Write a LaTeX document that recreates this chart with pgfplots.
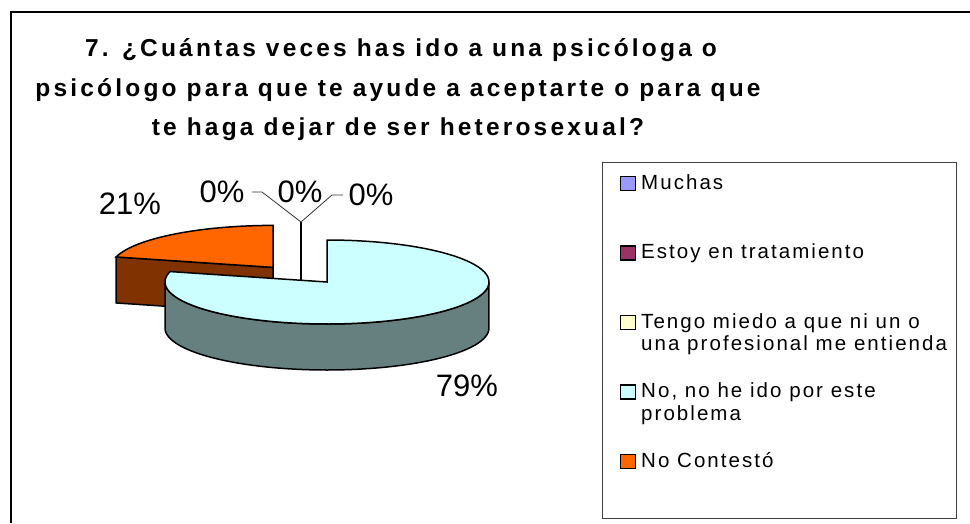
\documentclass[border=0pt]{standalone}
\usepackage{pgfplots}
\pgfplotsset{compat=1.18}
\usepackage{pgfplotstable}
\usepackage{fontspec}
\setmainfont{Liberation Sans}
\newfontfamily\titlefont[LetterSpace=13]{Liberation Sans}
\newfontfamily\legfont[LetterSpace=10]{Liberation Sans}

\definecolor{cMuchas}{HTML}{9999FF}
\definecolor{cEstoy}{HTML}{993366}
\definecolor{cTengo}{HTML}{FFFFCC}
\definecolor{cNo}{HTML}{CCFFFF}
\definecolor{cNoSide}{HTML}{668080}
\definecolor{cNC}{HTML}{FF6600}
\definecolor{cNCSide}{HTML}{803300}

\pgfplotstableread{
label value
Muchas 0
Estoy 0
Tengo 0
No 79
NC 21
}\piedata

\tikzset{swatch/.style={draw=black, line width=1.5bp, minimum width=15bp, minimum height=14bp, inner sep=0}}

\begin{document}%
\begin{tikzpicture}
\pgfplotstablegetelem{3}{value}\of\piedata \let\vNo\pgfplotsretval
\pgfplotstablegetelem{4}{value}\of\piedata \let\vNC\pgfplotsretval
% geometry (pixel units, y downward)
\def\cx{327}\def\cy{282}\def\rx{162}\def\ry{42}\def\dep{46}\def\ex{88}
\pgfmathsetmacro\aB{90+360*\vNC/100}
\pgfmathsetmacro\amid{(90+\aB)/2}
\pgfmathsetmacro\ox{\cx+\ex*cos(\amid)}
\pgfmathsetmacro\oy{\cy-\ex*sin(\amid)*0.21}
\pgfmathsetmacro\oyd{\oy+\dep}
\pgfmathsetmacro\pxA{\ox+\rx*cos(\aB)}
\pgfmathsetmacro\pyA{\oy-\ry*sin(\aB)}
\pgfmathsetmacro\pyAd{\pyA+\dep}
\begin{axis}[scale only axis, width=970bp, height=523bp,
  xmin=0, xmax=970, ymin=0, ymax=523, y dir=reverse,
  hide axis, clip=false]
\coordinate (bbSW) at (axis cs:0,523);
\coordinate (bbNE) at (axis cs:970,0);
% outer frame
\addplot[black, line width=2bp] coordinates {(11,523) (11,12) (970,12)};
% title
\node[anchor=base, inner sep=0] at (axis cs:401,56.5) {\titlefont\bfseries\fontsize{24.5bp}{28bp}\selectfont 7. ¿Cuántas veces has ido a una psicóloga o};
\node[anchor=base, inner sep=0] at (axis cs:398,96.5) {\titlefont\bfseries\fontsize{24.5bp}{28bp}\selectfont psicólogo para que te ayude a aceptarte o para que};
\node[anchor=base, inner sep=0] at (axis cs:398,135.5) {\titlefont\bfseries\fontsize{24.5bp}{28bp}\selectfont te haga dejar de ser heterosexual?};
% orange slice (exploded) : radial side face
\addplot[fill=cNCSide, draw=black, line width=1.5bp] coordinates {(\pxA,\pyA) (\ox,\oy) (\ox,\oyd) (\pxA,\pyAd)} -- cycle;
% orange top face
\addplot[fill=cNC, draw=black, line width=1.5bp, domain=90:\aB, samples=40, variable=\t]
  ({\ox+\rx*cos(\t)},{\oy-\ry*sin(\t)}) -- (axis cs:\ox,\oy) -- cycle;
% cyan slice: outer side
\addplot[fill=cNoSide, draw=black, line width=1.5bp, domain=0:2, samples=121, variable=\t]
  ({\cx+\rx*cos(180+180*min(\t,1)-180*max(\t-1,0))},
   {\cy-\ry*sin(180+180*min(\t,1)-180*max(\t-1,0))+\dep*min(1,max(0,(\t-1)*1000))}) -- cycle;
% cyan top face
\addplot[fill=cNo, draw=black, line width=1.5bp, domain=\aB:450, samples=120, variable=\t]
  ({\cx+\rx*cos(\t)},{\cy-\ry*sin(\t)}) -- (axis cs:\cx,\cy) -- cycle;
% zero slices
\addplot[black, line width=2bp] coordinates {(301,222) (301,281)};
\addplot[black!80, line width=0.8bp] coordinates {(252,192) (262,192) (301,222) (332,195) (343,195)};
% labels
\node[inner sep=0] at (axis cs:130,204) {\fontsize{31bp}{36bp}\selectfont 21\%};
\node[inner sep=0] at (axis cs:222,192) {\fontsize{31bp}{36bp}\selectfont 0\%};
\node[inner sep=0] at (axis cs:300,192) {\fontsize{31bp}{36bp}\selectfont 0\%};
\node[inner sep=0] at (axis cs:371,195) {\fontsize{31bp}{36bp}\selectfont 0\%};
\node[inner sep=0] at (axis cs:467,386) {\fontsize{31bp}{36bp}\selectfont 79\%};
% legend
\draw[black!75, line width=1bp] (axis cs:602,162) rectangle (axis cs:956,518);
\node[swatch, fill=cMuchas] at (axis cs:628,183.5) {};
\node[swatch, fill=cEstoy] at (axis cs:628,253) {};
\node[swatch, fill=cTengo] at (axis cs:628,322.5) {};
\node[swatch, fill=cNo] at (axis cs:628,392) {};
\node[swatch, fill=cNC] at (axis cs:628,461.5) {};
\node[anchor=base west, inner sep=0] at (axis cs:641,189) {\legfont\fontsize{20.5bp}{22bp}\selectfont Muchas};
\node[anchor=base west, inner sep=0] at (axis cs:641,258.5) {\legfont\fontsize{20.5bp}{22bp}\selectfont Estoy en tratamiento};
\node[anchor=base west, inner sep=0] at (axis cs:641,328) {\legfont\fontsize{20.5bp}{22bp}\selectfont Tengo miedo a que ni un o};
\node[anchor=base west, inner sep=0] at (axis cs:641,350) {\legfont\fontsize{20.5bp}{22bp}\selectfont una profesional me entienda};
\node[anchor=base west, inner sep=0] at (axis cs:641,397.5) {\legfont\fontsize{20.5bp}{22bp}\selectfont No, no he ido por este};
\node[anchor=base west, inner sep=0] at (axis cs:641,420) {\legfont\fontsize{20.5bp}{22bp}\selectfont problema};
\node[anchor=base west, inner sep=0] at (axis cs:641,467) {\legfont\fontsize{20.5bp}{22bp}\selectfont No Contestó};
\end{axis}
\pgfresetboundingbox
\path (bbSW) rectangle (bbNE);
\end{tikzpicture}%
\end{document}
